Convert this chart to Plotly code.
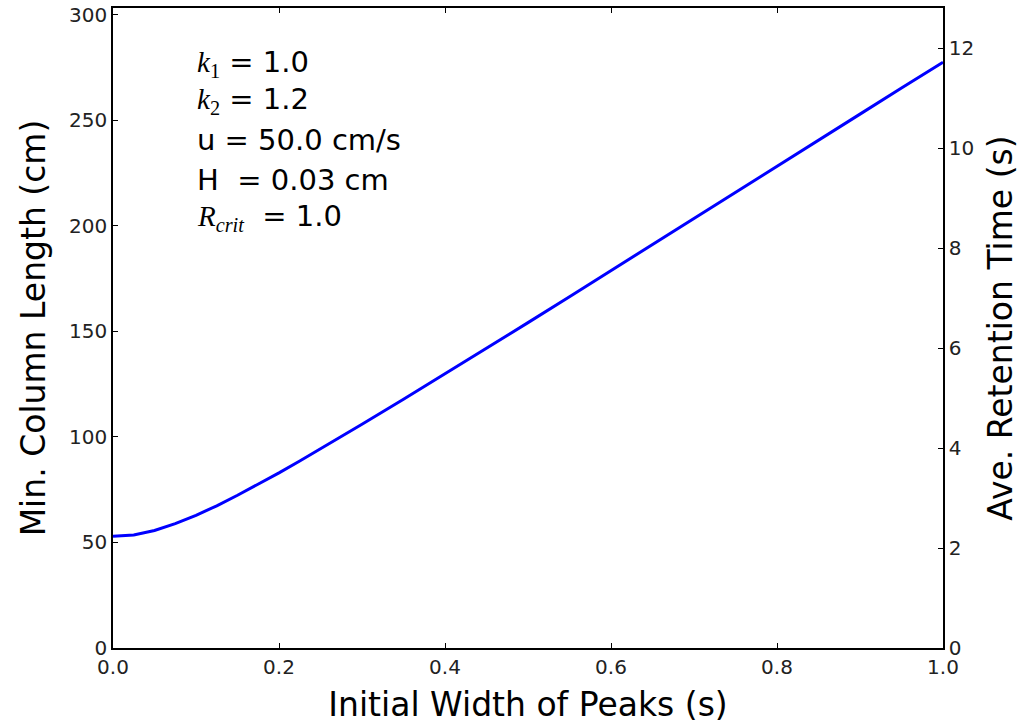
import plotly.graph_objects as go

# Initial width of peaks (s)
width_s = [0.0, 0.025, 0.05, 0.075, 0.10, 0.125, 0.15, 0.175, 0.20, 0.225, 0.25, 0.275, 0.30,
           0.35, 0.40, 0.45, 0.50, 0.55, 0.60, 0.65, 0.70, 0.75, 0.80, 0.85, 0.90, 0.95, 1.0]
# Min. column length (cm)
min_length_cm = [52.9, 53.6, 55.7, 58.9, 62.9, 67.4, 72.4, 77.6, 83.0, 88.6, 94.3, 100.1, 106.0,
                 117.9, 129.9, 142.0, 154.2, 166.5, 178.8, 191.1, 203.4, 215.8, 228.2, 240.6,
                 253.0, 265.4, 277.6]

x_ticks = [0.0, 0.2, 0.4, 0.6, 0.8, 1.0]
x_tick_text = ["0.0", "0.2", "0.4", "0.6", "0.8", "1.0"]
y_ticks = [0, 50, 100, 150, 200, 250, 300]
y2_ticks = [0, 2, 4, 6, 8, 10, 12]

SERIF = "font-family:'Liberation Serif'"
param_lines = [
    f"<span style=\"{SERIF}\"><i>k</i><sub>1</sub></span> = 1.0",
    f"<span style=\"{SERIF}\"><i>k</i><sub>2</sub></span> = 1.2",
    "u = 50.0 cm/s",
    "H  = 0.03 cm",
    f"<span style=\"{SERIF}\"><i>R</i><sub><i>crit</i></sub></span>  = 1.0",
]
param_y_px = [63, 101, 140, 180, 217]

FONT = "DejaVu Sans"
PLOT_TOP, PLOT_BOTTOM = 8, 648

fig = go.Figure()
fig.add_trace(go.Scatter(x=width_s, y=min_length_cm, mode="lines",
                         line=dict(color="#0000ff", width=3),
                         showlegend=False, hoverinfo="skip"))
fig.add_trace(go.Scatter(x=[], y=[], yaxis="y2", showlegend=False, hoverinfo="skip"))

annotations = []
for txt, ypx in zip(param_lines, param_y_px):
    annotations.append(dict(
        text=txt, xref="paper", yref="paper",
        x=(195 - 113) / 830, y=(PLOT_BOTTOM - ypx) / (PLOT_BOTTOM - PLOT_TOP),
        xanchor="left", yanchor="middle", showarrow=False,
        font=dict(family=FONT, size=29, color="black"),
    ))

axis_common = dict(showline=True, linecolor="black", linewidth=1.5,
                   ticks="inside", ticklen=5, tickwidth=1, tickcolor="black",
                   showgrid=False, zeroline=False, automargin=False,
                   tickfont=dict(family=FONT, size=20, color="#222"))

fig.update_layout(
    width=1023, height=724,
    margin=dict(l=113, r=80, t=8, b=76),
    plot_bgcolor="white", paper_bgcolor="white",
    xaxis=dict(range=[0, 1], tickvals=x_ticks, ticktext=x_tick_text, mirror="ticks",
               title=dict(text="Initial Width of Peaks (s)", standoff=17,
                          font=dict(family=FONT, size=33, color="black")),
               **axis_common),
    yaxis=dict(range=[0, 303.3], tickvals=y_ticks,
               title=dict(text="Min. Column Length (cm)", standoff=14,
                          font=dict(family=FONT, size=33, color="black")),
               **axis_common),
    yaxis2=dict(range=[0, 12.8], tickvals=y2_ticks, overlaying="y", side="right",
                title=dict(text="Ave. Retention Time (s)", standoff=16,
                           font=dict(family=FONT, size=33, color="black")),
                **axis_common),
    annotations=annotations,
)

fig.write_html("out.html")
